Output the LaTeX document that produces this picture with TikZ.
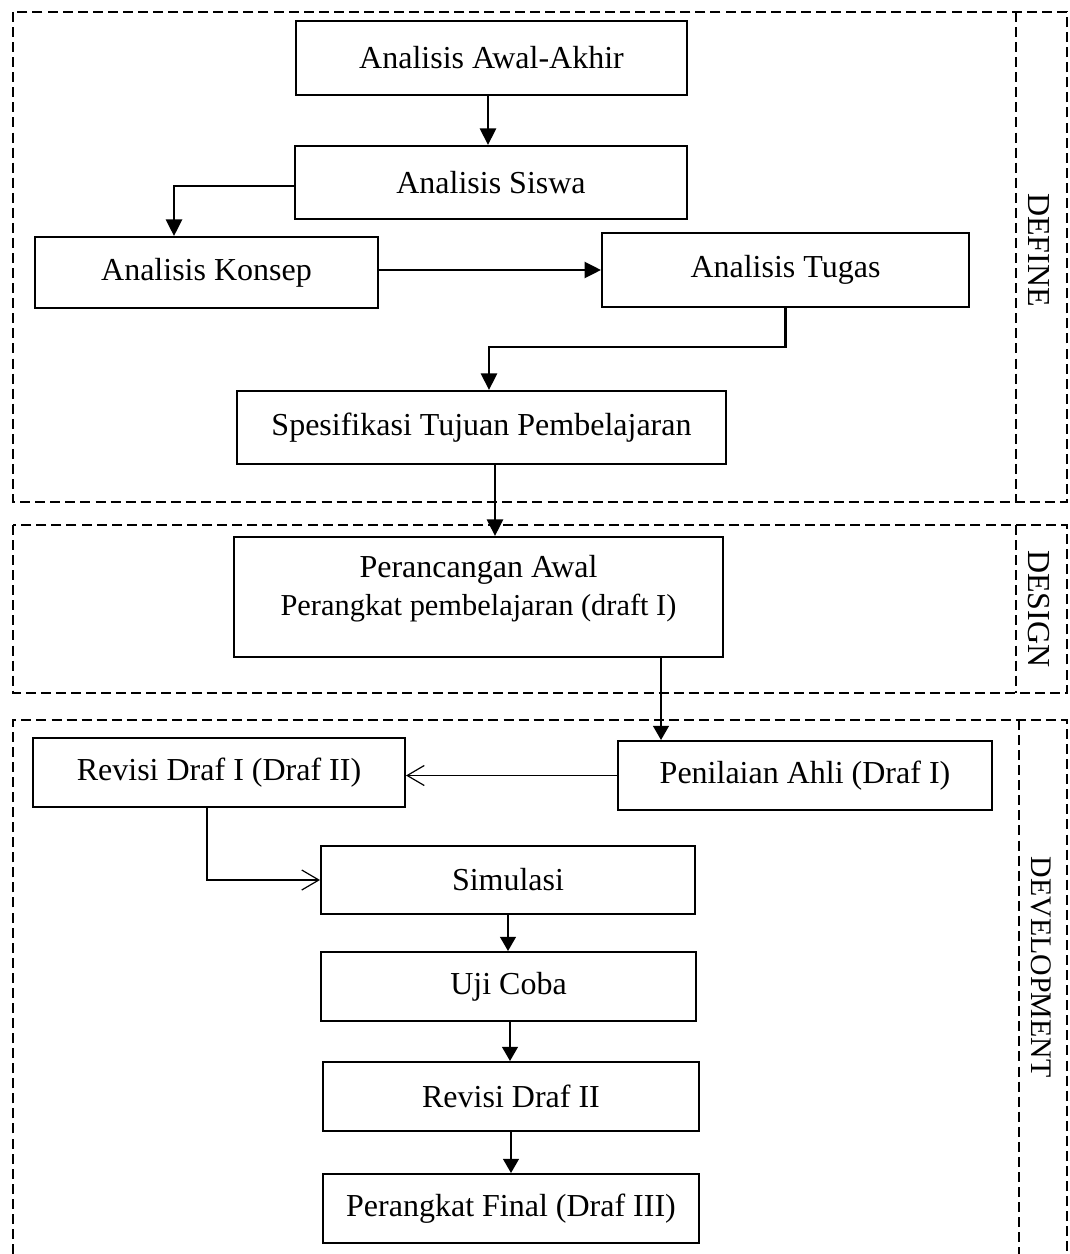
\documentclass[tikz,border=0pt]{standalone}
\usepackage{fontspec}
\setmainfont{Liberation Serif}
\usetikzlibrary{arrows.meta,calc}
\begin{document}
\begin{tikzpicture}[x=0.375pt,y=-0.375pt,
  box/.style={draw, line width=0.75pt, inner sep=0pt, align=center, font=\fontsize{12pt}{14.25pt}\selectfont},
  zone/.style={line width=0.75pt, dash pattern=on 3.75pt off 1.9pt},
  arrT/.style={line width=1pt, -{Triangle[length=6.2pt,width=6pt]}},
  arrD/.style={line width=0.45pt, -{Triangle[length=5.3pt,width=6pt]}},
  arrO/.style={line width=0.45pt, -{Straight Barb[length=6.4pt,width=7.5pt]}},
  phase/.style={rotate=-90, font=\fontsize{12pt}{14.25pt}\selectfont, inner sep=0pt}]
\useasboundingbox (0,0) rectangle (1069,1254);

% phase zones
\draw[zone] (13,12) rectangle (1067,502);
\draw[zone] (1016,12) -- (1016,502);
\draw[zone] (13,525) rectangle (1067,693);
\draw[zone] (1016,525) -- (1016,693);
\draw[zone] (13,1254) -- (13,720) -- (1067,720) -- (1067,1254);
\draw[zone] (1019,720) -- (1019,1254);
\node[phase] (lDefine) at (1039,250) {DEFINE};
\node[phase] (lDesign) at (1039,609) {DESIGN};
\node[phase, font=\fontsize{11.2pt}{14pt}\selectfont] (lDev) at (1041,967) {DEVELOPMENT};

% boxes
\node[box, minimum width=146.6pt, minimum height=27.75pt] (aa) at (491.5,58) {Analisis Awal-Akhir};
\node[box, minimum width=147pt, minimum height=27.4pt] (sis) at (491,182.5) {Analisis Siswa};
\node[box, minimum width=128.6pt, minimum height=26.6pt] (kon) at (206.5,272.5) {Analisis Konsep};
\node[box, minimum width=137.6pt, minimum height=27.75pt] (tug) at (785.5,270) {Analisis Tugas};
\node[box, minimum width=183.4pt, minimum height=27.4pt] (spe) at (481.5,427.5) {Spesifikasi Tujuan Pembelajaran};
\node[box, minimum width=183.4pt, minimum height=45pt, text depth=8.6pt] (per) at (478.5,597) {Perancangan Awal\\{\fontsize{11.4pt}{14.25pt}\selectfont Perangkat pembelajaran (draft I)}};
\node[box, minimum width=140.25pt, minimum height=25.9pt] (pen) at (805,775.5) {Penilaian Ahli (Draf I)};
\node[box, minimum width=139.5pt, minimum height=25.9pt] (rev) at (219,772.5) {Revisi Draf I (Draf II)};
\node[box, minimum width=140.25pt, minimum height=25.5pt] (sim) at (508,880) {Simulasi};
\node[box, minimum width=140.6pt, minimum height=25.9pt] (uji) at (508.5,986.5) {Uji Coba};
\node[box, minimum width=141pt, minimum height=25.9pt] (rev2) at (511,1096.5) {Revisi Draf II};
\node[box, minimum width=141pt, minimum height=25.9pt] (fin) at (511,1208.5) {Perangkat Final (Draf III)};

% routing points
\coordinate (kx) at (174,186);
\coordinate (tx) at (489,347);
\coordinate (sx) at (495,0);
\coordinate (px) at (661,0);
\coordinate (rx) at (207,0);
\coordinate (ax) at (488,0);
\coordinate (ux) at (510,0);

% connectors
\draw[arrT] (aa.south -| ax) -- (sis.north -| ax);
\draw[arrT] (sis.west |- kx) -- (kx) -- (kx |- kon.north);
\draw[arrT] (kon.east |- tug.west) -- (tug.west);
\draw[arrT] (tug.south) |- (tx) -- (tx |- spe.north);
\draw[arrT] (spe.south -| sx) -- (per.north -| sx);
\draw[arrD] (per.south -| px) -- (pen.north -| px);
\draw[arrO] (pen.west) -- (rev.east |- pen.west);
\draw[arrO] (rev.south -| rx) |- (sim.west);
\draw[arrD] (sim.south) -- (sim.south |- uji.north);
\draw[arrD] (uji.south -| ux) -- (rev2.north -| ux);
\draw[arrD] (rev2.south) -- (rev2.south |- fin.north);
\end{tikzpicture}
\end{document}
